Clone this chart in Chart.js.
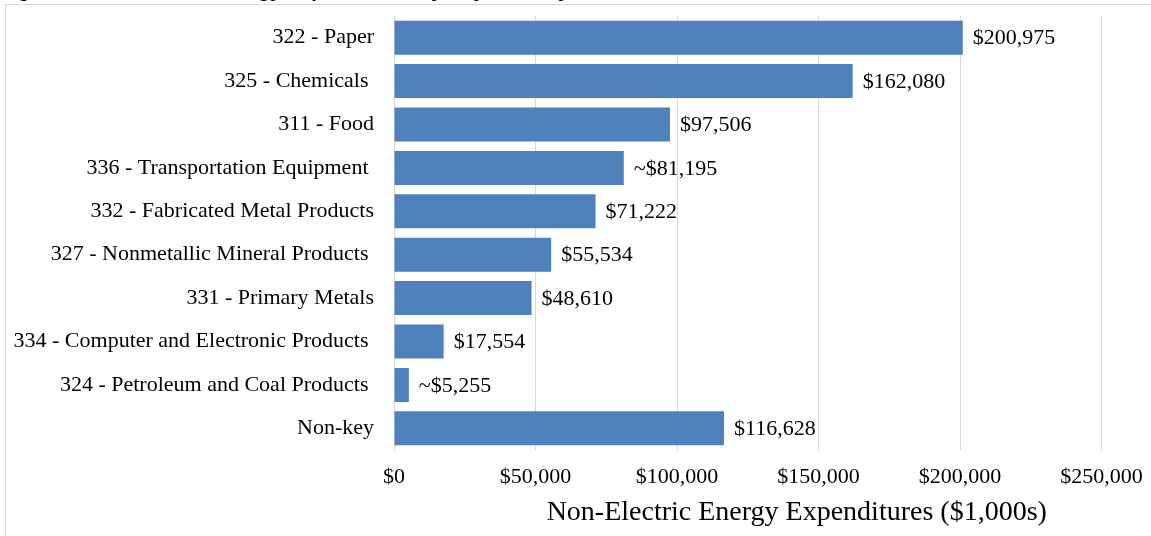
<!DOCTYPE html>
<html>
<head>
<meta charset="utf-8">
<script src="https://cdn.jsdelivr.net/npm/chart.js@4.4.1/dist/chart.umd.min.js"></script>
<style>
  html, body { margin: 0; padding: 0; background: #fff; overflow: hidden; }
  #wrap { position: absolute; left: 0; top: 0; width: 1151px; height: 536px; }
  #frame { position: absolute; left: 5px; top: 4px; width: 1200px; height: 600px;
           border: 1px solid #d9d9d9; pointer-events: none; }
  #fig { position: absolute; left: 0; top: -19px; font: bold 20px 'Liberation Sans', Arial, sans-serif;
         line-height: 18px; white-space: nowrap; }
</style>
</head>
<body>
<div id="fig">Figure 3: Non-Electric Energy Expenditures by Key Industry</div>
<div id="wrap"><canvas id="expChart"></canvas></div>
<div id="frame"></div>
<script>
const industries = [
    '322 - Paper',
    '325 - Chemicals ',
    '311 - Food',
    '336 - Transportation Equipment ',
    '332 - Fabricated Metal Products',
    '327 - Nonmetallic Mineral Products ',
    '331 - Primary Metals',
    '334 - Computer and Electronic Products ',
    '324 - Petroleum and Coal Products ',
    'Non-key'
];
const expenditures = [200975, 162080, 97506, 81195, 71222, 55534, 48610, 17554, 5255, 116628];
const labelPrefix = ['', '', '', '~', '', '', '', '', '~', ''];
const xTicks = [0, 50000, 100000, 150000, 200000, 250000];
const xTitle = 'Non-Electric Energy Expenditures ($1,000s)';

const serif = "'Liberation Serif', 'Times New Roman', serif";

function money(v) {
    return '$' + v.toLocaleString('en-US');
}

// value labels at the end of each bar + the axis title (sits right of centre in the original)
const barLabels = {
    id: 'barLabels',
    afterDatasetsDraw(chart) {
        const ctx = chart.ctx;
        const meta = chart.getDatasetMeta(0);
        ctx.save();
        ctx.font = '22px ' + serif;
        ctx.fillStyle = '#000';
        ctx.textAlign = 'left';
        ctx.textBaseline = 'middle';
        meta.data.forEach((bar, i) => {
            ctx.fillText(labelPrefix[i] + money(expenditures[i]), bar.x + 10, bar.y + 1);
        });
        const area = chart.chartArea;
        ctx.font = '28px ' + serif;
        ctx.textAlign = 'center';
        ctx.fillText(xTitle, (area.left + area.right) / 2 + 49, area.bottom + 63);
        ctx.restore();
    }
};

const data = {
    labels: industries,
    datasets: [{
        label: 'Non-Electric Energy Expenditures',
        data: expenditures,
        backgroundColor: '#4F81BD',
        borderWidth: 0,
        barPercentage: 1,
        categoryPercentage: 0.783
    }]
};

const config = {
    type: 'bar',
    data,
    options: {
        indexAxis: 'y',
        responsive: true,
        maintainAspectRatio: false,
        animation: false,
        layout: { padding: { left: 0, right: 49.5, top: 16, bottom: 0 } },
        plugins: {
            legend: { display: false },
            tooltip: { enabled: false }
        },
        scales: {
            x: {
                min: 0,
                max: 250000,
                afterBuildTicks: scale => { scale.ticks = xTicks.map(v => ({ value: v })); },
                afterFit: scale => {
                    scale.height = 86;
                    scale.paddingLeft = 0;
                    scale.paddingRight = 0;
                },
                grid: { color: '#d9d9d9', drawTicks: false },
                border: { display: false },
                ticks: {
                    padding: 14,
                    color: '#000',
                    font: { family: serif, size: 22 },
                    callback: v => money(v)
                }
            },
            y: {
                afterFit: scale => {
                    scale.width = 394;
                    scale.paddingTop = 0;
                    scale.paddingBottom = 0;
                },
                grid: { display: false, drawTicks: false },
                border: { display: false },
                ticks: {
                    padding: 20,
                    color: '#000',
                    font: { family: serif, size: 22 }
                }
            }
        }
    },
    plugins: [barLabels]
};

const Chart1 = new Chart(document.getElementById('expChart'), config);
</script>
</body>
</html>
